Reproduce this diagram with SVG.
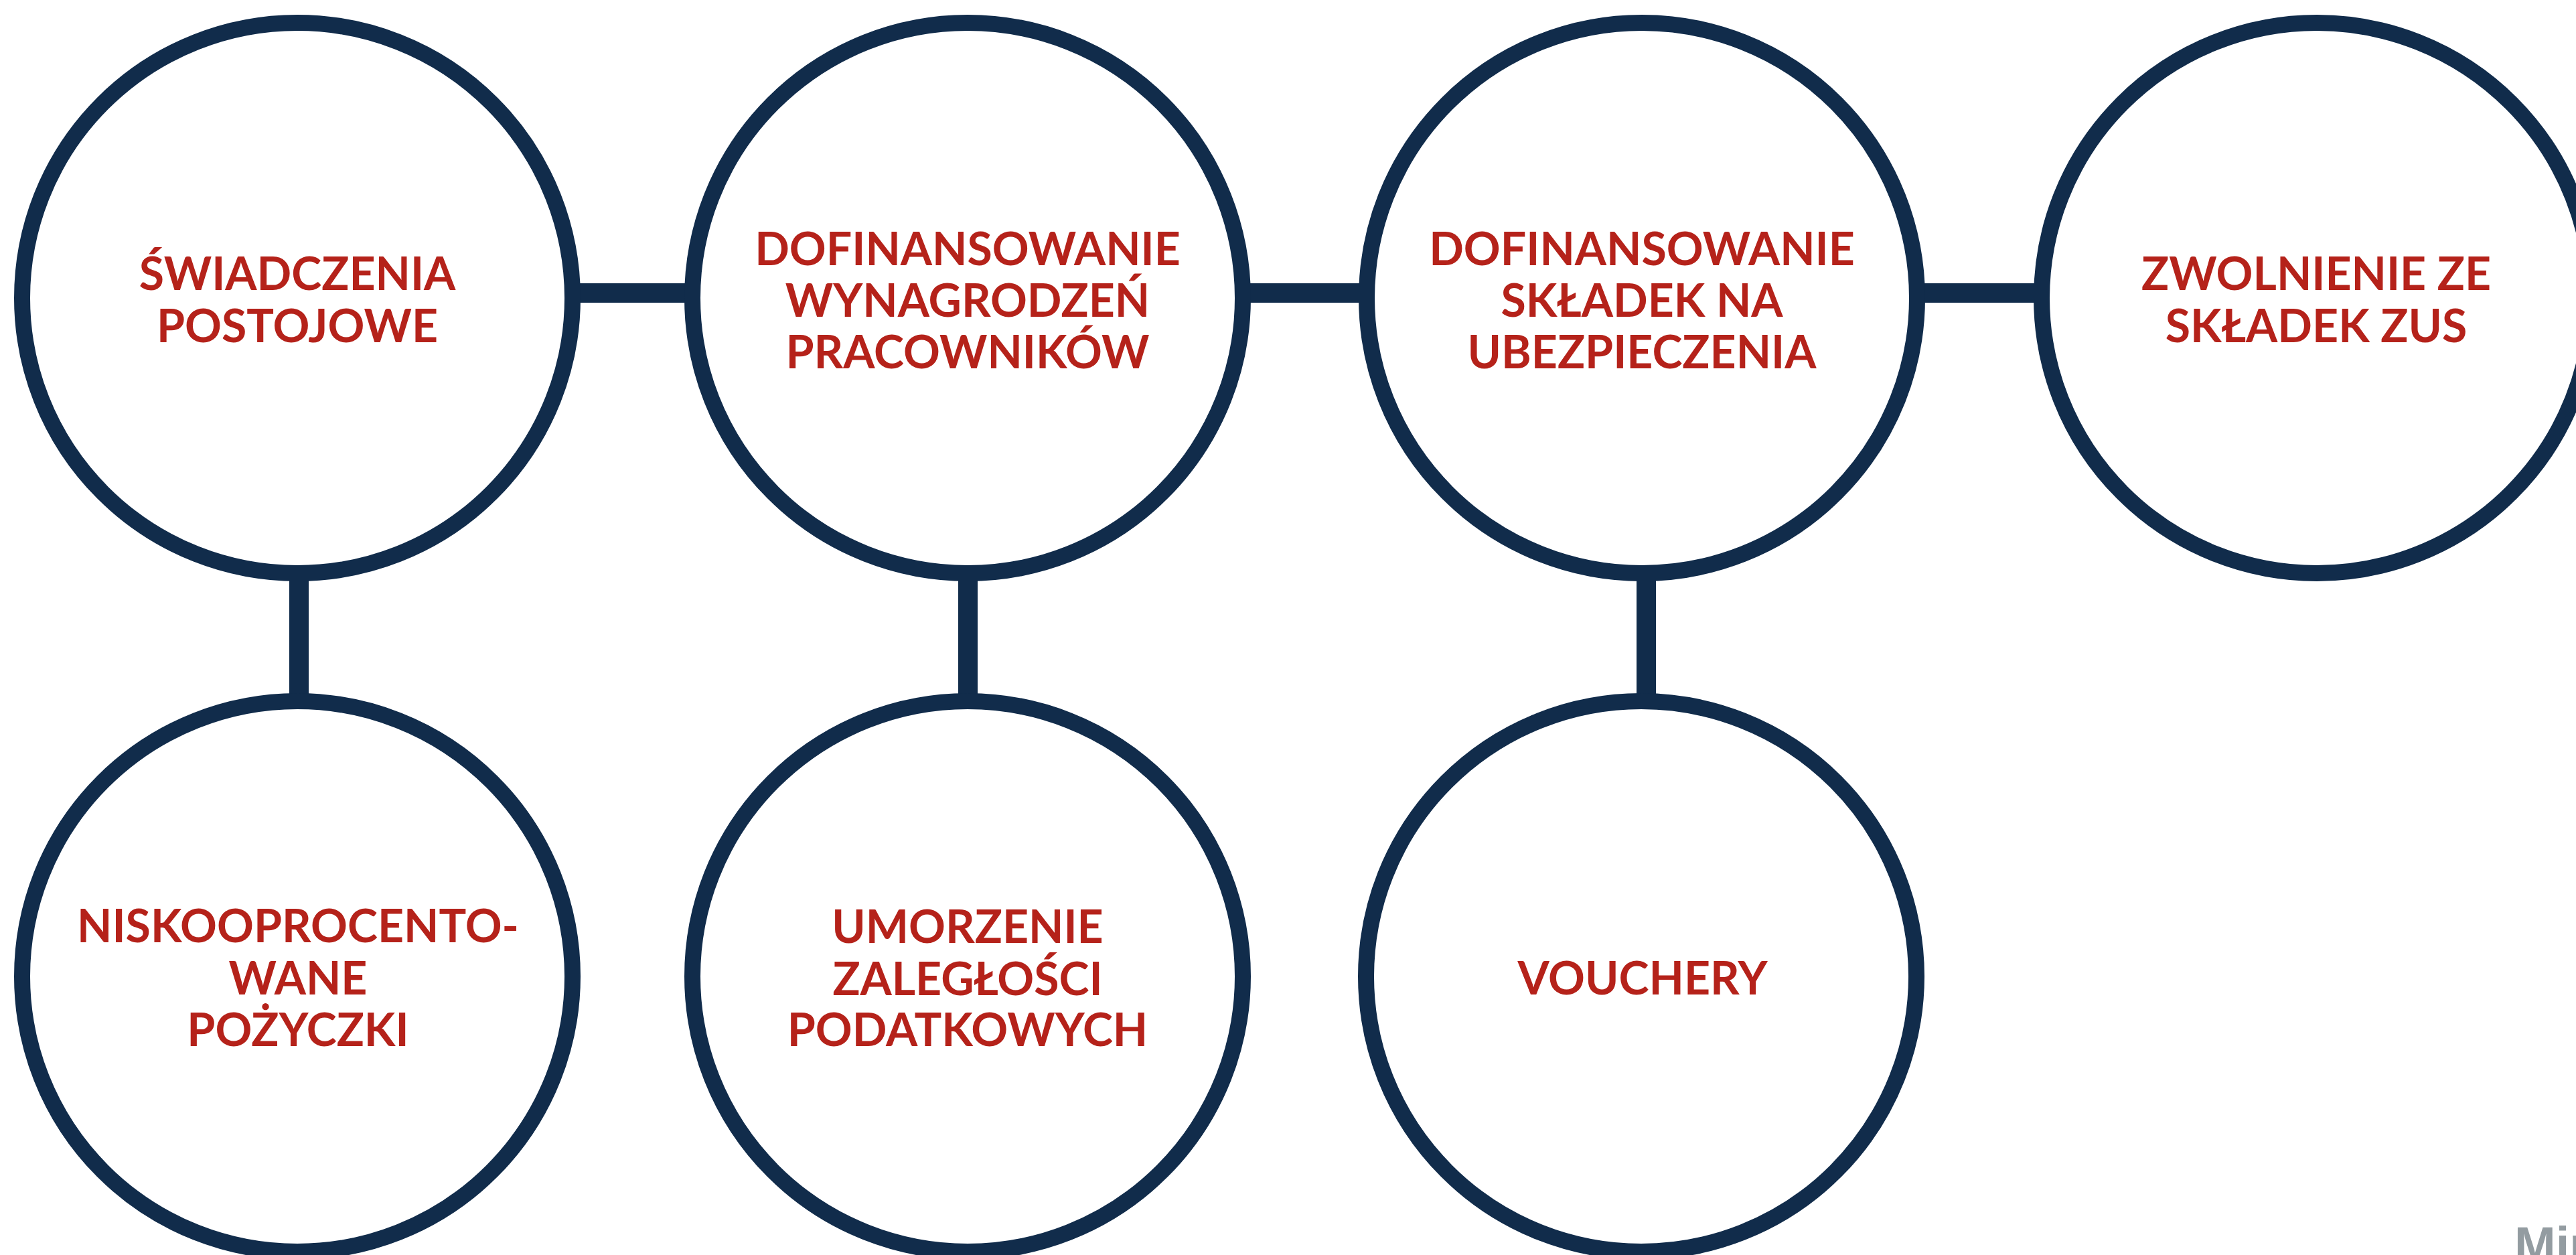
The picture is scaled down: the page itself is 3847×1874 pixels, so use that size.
<svg xmlns="http://www.w3.org/2000/svg" width="3847" height="1874" viewBox="0 0 3847 1874">
<style>
.node circle{fill:#ffffff;stroke:#112c4b;stroke-width:24}
.node text{font-family:Lato,"Noto Sans","Liberation Sans",sans-serif;font-weight:700;font-size:68px;fill:#b5221a;text-anchor:middle}
.conn rect{fill:#112c4b}
.mark{font-family:"Liberation Sans",Arial,sans-serif;font-weight:700;font-size:74px;fill:#939ca1}
</style>
<rect width="3847" height="1874" fill="#ffffff"/>
<g id="connectors" class="conn">
<rect x="860" y="423" width="168" height="29"/>
<rect x="1860" y="423" width="176" height="29"/>
<rect x="2866" y="423" width="178" height="29"/>
<rect x="432" y="860" width="29" height="184"/>
<rect x="1431" y="860" width="29" height="184"/>
<rect x="2444" y="860" width="29" height="184"/>
</g>
<g id="n1" class="node">
<circle cx="444" cy="445" r="411"/>
<text x="444" y="433">ŚWIADCZENIA</text>
<text x="444" y="511">POSTOJOWE</text>
</g>
<g id="n2" class="node">
<circle cx="1445" cy="445" r="411"/>
<text x="1445" y="396">DOFINANSOWANIE</text>
<text x="1445" y="473">WYNAGRODZEŃ</text>
<text x="1445" y="550">PRACOWNIKÓW</text>
</g>
<g id="n3" class="node">
<circle cx="2452" cy="445" r="411"/>
<text x="2452" y="396">DOFINANSOWANIE</text>
<text x="2452" y="473">SKŁADEK NA</text>
<text x="2452" y="550">UBEZPIECZENIA</text>
</g>
<g id="n4" class="node">
<circle cx="3460" cy="445" r="411"/>
<text x="3459" y="433">ZWOLNIENIE ZE</text>
<text x="3459" y="511">SKŁADEK ZUS</text>
</g>
<g id="n5" class="node">
<circle cx="444" cy="1458" r="411"/>
<text x="445" y="1407">NISKOOPROCENTO-</text>
<text x="445" y="1485">WANE</text>
<text x="445" y="1562">POŻYCZKI</text>
</g>
<g id="n6" class="node">
<circle cx="1445" cy="1458" r="411"/>
<text x="1445" y="1408">UMORZENIE</text>
<text x="1445" y="1486">ZALEGŁOŚCI</text>
<text x="1445" y="1562">PODATKOWYCH</text>
</g>
<g id="n7" class="node">
<circle cx="2451" cy="1458" r="411"/>
<text x="2453" y="1485">VOUCHERY</text>
</g>
<text class="mark" x="3755" y="1884">Min</text>
</svg>
